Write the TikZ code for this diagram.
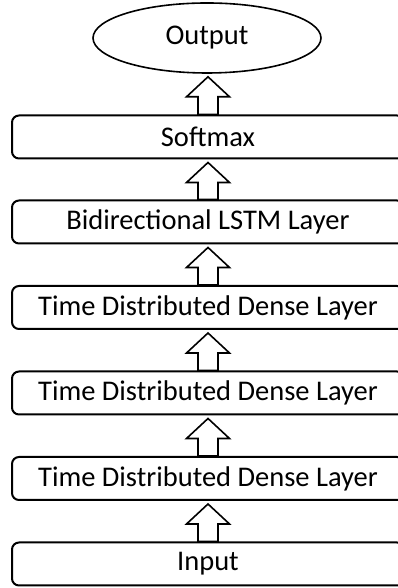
\documentclass[tikz,border=0pt]{standalone}
\usepackage{fontspec}
\setmainfont{Carlito}
\usetikzlibrary{shapes.geometric,calc}
\tikzset{
  layer/.style={draw=black, line width=2pt, rounded corners=7pt, minimum width=392pt, minimum height=43pt, inner sep=0pt, fill=white, font=\fontsize{28.5}{32}\selectfont},
  outnode/.style={draw=black, line width=1.6pt, ellipse, minimum width=228pt, minimum height=70pt, inner sep=0pt, font=\fontsize{28.5}{32}\selectfont},
  blockarrow/.style={draw=black, line width=1.6pt, fill=white, line join=miter}
}
\newcommand\blockarrow[2]{%
  \draw[blockarrow] let \p1=(#1.north), \p2=(#2.south) in
    (\x1-10pt,\y1) -- (\x1-10pt,\y2-23pt) -- (\x1-21.5pt,\y2-23pt) -- (\x1,\y2-3pt)
    -- (\x1+21.5pt,\y2-23pt) -- (\x1+10pt,\y2-23pt) -- (\x1+10pt,\y1) -- cycle;}
\begin{document}
\begin{tikzpicture}[x=1pt,y=1pt]
\useasboundingbox (0,0) rectangle (398,588);
\node[outnode] (out) at (207,550) {Output};
\node[layer] (soft) at (208,451) {Softmax};
\node[layer] (bi) at (208,366) {Bidirectional LSTM Layer};
\node[layer] (td1) at (208,280.5) {Time Distributed Dense Layer};
\node[layer] (td2) at (208,195) {Time Distributed Dense Layer};
\node[layer] (td3) at (208,109.5) {Time Distributed Dense Layer};
\node[layer] (in) at (208,24) {Input};
\blockarrow{soft}{out}
\blockarrow{bi}{soft}
\blockarrow{td1}{bi}
\blockarrow{td2}{td1}
\blockarrow{td3}{td2}
\blockarrow{in}{td3}
\end{tikzpicture}
\end{document}
